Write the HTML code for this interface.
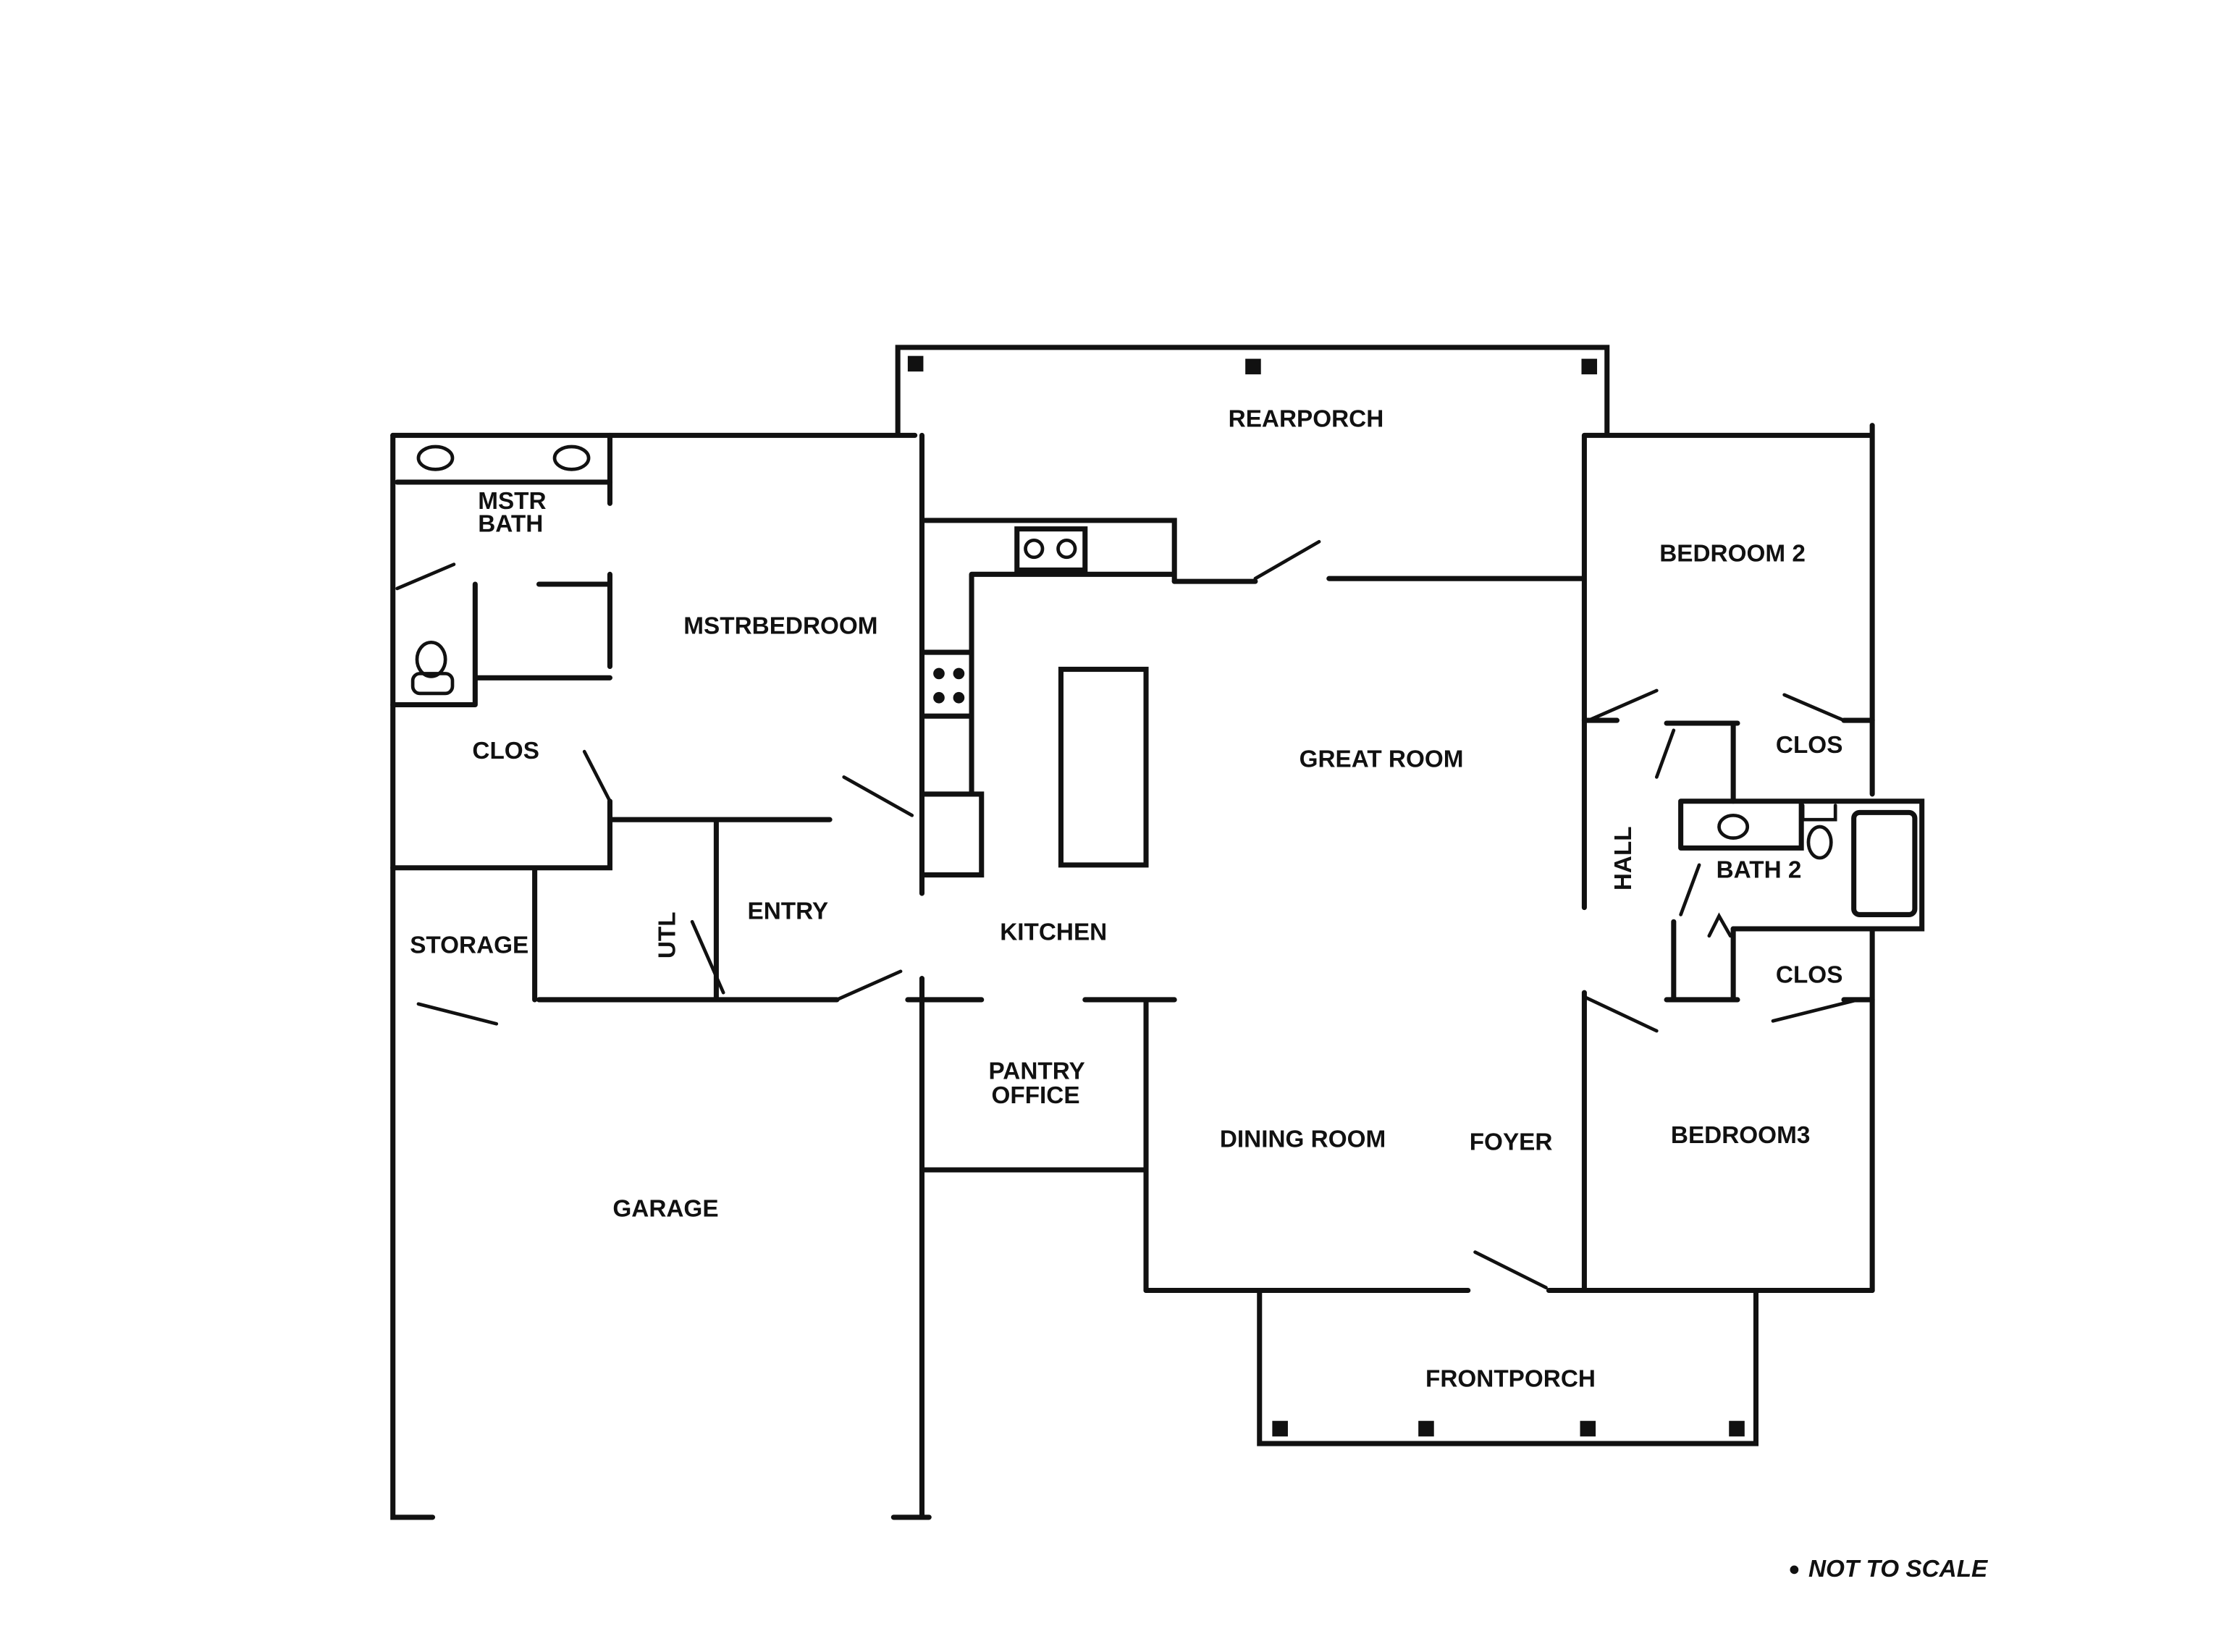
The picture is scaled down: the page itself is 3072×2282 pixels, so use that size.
<!DOCTYPE html>
<html><head><style>
html,body{margin:0;padding:0;background:#fff;}
svg{display:block}
text{font-family:"Liberation Sans",sans-serif;font-size:17px;fill:#111;font-weight:bold}
</style></head><body>
<svg width="3072" height="2282" viewBox="0 0 1568 1165" preserveAspectRatio="none" xmlns="http://www.w3.org/2000/svg">
<rect width="1568" height="1165" fill="#fff"/>
<g stroke="#111" stroke-width="3.6" fill="none" stroke-linecap="round">
<!-- rear porch -->
<path d="M633,305 V245 H1133 V305"/>
<!-- left block -->
<path d="M277,307 H645"/>
<path d="M277,307 V1070 H305"/>
<path d="M630,1070 H655"/>
<path d="M650,307 V630"/>
<path d="M650,690 V1070"/>
<path d="M430,307 V355"/>
<path d="M280,340 H430"/>
<path d="M335,412 V497 M380,412 H430 M335,478 H430 M430,405 V470 M277,497 H335"/>
<path d="M277,612 H430 V565 M430,578 H585 M505,580 V705 M377,612 V705 M380,705 H590"/>
<!-- kitchen -->
<path d="M652,367 H828 V410 M685,405 H826 M685,405 V560 M652,460 H685 M652,505 H685 M652,560 H692 V617 H652"/>
<rect x="748" y="472" width="60" height="138"/>
<rect x="717" y="373" width="48" height="29"/>
<path d="M828,410 H885 M937,408 H1115"/>
<!-- right block -->
<path d="M1117,307 V640 M1117,700 V910 M1117,307 H1320 M1320,300 V560 M1320,655 V910"/>
<path d="M808,910 H1035 M1092,910 H1320"/>
<path d="M1117,508 H1140 M1175,510 H1225 M1222,510 V565 M1300,508 H1320"/>
<path d="M1185,565 H1355 V655 H1222 M1185,565 V598 M1185,598 H1270 V565"/>
<rect x="1307" y="573" width="43" height="72" rx="4"/>
<path d="M1180,650 V705 M1222,655 V705 M1175,705 H1225 M1300,705 H1320"/>
<path d="M640,705 H692 M765,705 H828 M808,705 V910 M650,825 H808"/>
<!-- front porch -->
<path d="M888,910 V1018 H1238 V910"/>
</g>
<g stroke="#111" stroke-width="2.4" fill="none" stroke-linecap="round">
<path d="M280,415 L320,398"/>
<path d="M412,530 L430,565"/>
<path d="M590,705 L635,685"/>
<path d="M295,708 L350,722"/>
<path d="M488,650 L510,700"/>
<path d="M595,548 L643,575"/>
<path d="M885,408 L930,382"/>
<path d="M1040,883 L1090,908"/>
<path d="M1120,508 L1168,487"/>
<path d="M1168,548 L1180,515"/>
<path d="M1258,490 L1300,508"/>
<path d="M1185,645 L1198,610"/>
<path d="M1250,720 L1310,705"/>
<path d="M1117,703 L1168,727"/>
<path d="M1205,660 L1212,646 L1220,660"/>
<ellipse cx="307" cy="323" rx="12" ry="8"/>
<ellipse cx="403" cy="323" rx="12" ry="8"/>
<ellipse cx="1222" cy="583" rx="10" ry="8"/>
<ellipse cx="1283" cy="594" rx="8" ry="11"/>
<path d="M1271,568 V578 H1294 V568"/>
<ellipse cx="304" cy="465" rx="10" ry="12"/>
<rect x="291" y="475" width="28" height="14" rx="5"/>
<circle cx="729" cy="387" r="6"/><circle cx="752" cy="387" r="6"/>
</g>
<g fill="#111">
<rect x="640" y="251" width="11" height="11"/>
<rect x="878" y="253" width="11" height="11"/>
<rect x="1115" y="253" width="11" height="11"/>
<rect x="897" y="1002" width="11" height="11"/>
<rect x="1000" y="1002" width="11" height="11"/>
<rect x="1114" y="1002" width="11" height="11"/>
<rect x="1219" y="1002" width="11" height="11"/>
<circle cx="662" cy="475" r="4"/><circle cx="676" cy="475" r="4"/>
<circle cx="662" cy="492" r="4"/><circle cx="676" cy="492" r="4"/>
<circle cx="1265" cy="1107" r="3"/>
</g>
<text x="866" y="301">REARPORCH</text>
<text x="337" y="359">MSTR</text>
<text x="337" y="375">BATH</text>
<text x="482" y="447">MSTRBEDROOM</text>
<text x="1170" y="396">BEDROOM 2</text>
<text x="333" y="535">CLOS</text>
<text x="916" y="541">GREAT ROOM</text>
<text x="1252" y="531">CLOS</text>
<text x="1210" y="619">BATH 2</text>
<text x="1252" y="693">CLOS</text>
<text x="289" y="672">STORAGE</text>
<text x="527" y="648">ENTRY</text>
<text x="705" y="663">KITCHEN</text>
<text x="697" y="761">PANTRY</text>
<text x="699" y="778">OFFICE</text>
<text x="860" y="809">DINING ROOM</text>
<text x="1036" y="811">FOYER</text>
<text x="1178" y="806">BEDROOM3</text>
<text x="432" y="858">GARAGE</text>
<text x="1005" y="978">FRONTPORCH</text>
<text x="1275" y="1112" font-style="italic">NOT TO SCALE</text>
<text transform="translate(1150,628) rotate(-90)">HALL</text>
<text transform="translate(476,676) rotate(-90)">UTL</text>
</svg>
</body></html>
